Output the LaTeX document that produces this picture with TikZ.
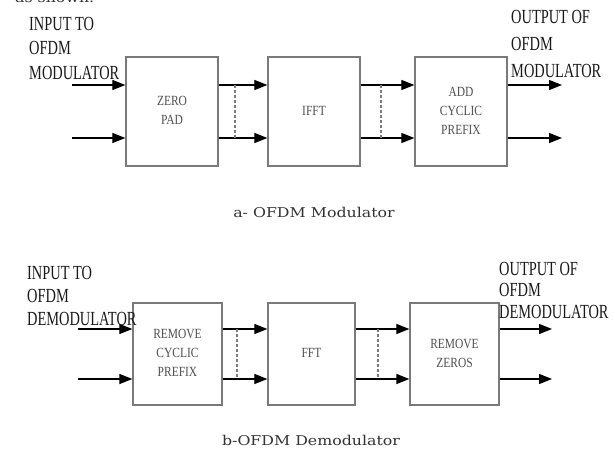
\documentclass[tikz,border=0pt]{standalone}
\usepackage{fontspec}
\setmainfont{Liberation Serif}
\newfontfamily\capfont{DejaVu Serif}
\usetikzlibrary{arrows.meta,calc}
\definecolor{boxgray}{HTML}{7A7A7A}
\definecolor{boxtext}{HTML}{505050}
\definecolor{labtext}{HTML}{1A1A1A}
\definecolor{captext}{HTML}{333333}
\newcommand\boxlab[1]{\scalebox{0.82}[1]{\begin{tabular}{@{}c@{}}#1\end{tabular}}}
\newcommand\sidelab[2]{\fontsize{20}{#1}\selectfont\scalebox{0.72}[1]{\begin{tabular}[t]{@{}l@{}}#2\end{tabular}}}
\newcommand\caplab[1]{\scalebox{1.17}[1]{#1}}
\tikzset{
  blk/.style={draw=boxgray, line width=1.3pt, inner sep=0pt, text=boxtext,
    font=\fontsize{14}{19}\selectfont},
  arr/.style={draw=black, line width=1.2pt, -{Triangle[length=13pt,width=10pt]}},
  dots/.style={draw=boxgray, line width=1.1pt, dash pattern=on 2.5pt off 2.5pt},
  side/.style={anchor=base west, inner sep=0pt, text=labtext},
  captxt/.style={text=captext, inner sep=0pt, font=\capfont\fontsize{13.5}{16}\selectfont}
}
\begin{document}
\begin{tikzpicture}[x=1pt,y=-1pt]
\fill[white] (0,0) rectangle (615,450);
\useasboundingbox (0,0) rectangle (615,450);

% body text cut off at the very top, as in the reference
\node[captxt, anchor=base west] (topline) at (15,2) {\caplab{as shown.}};

% ---------- a: modulator ----------
\node[blk, minimum width=92pt, minimum height=109pt] (A) at (172,111.5) {\boxlab{ZERO\\PAD}};
\node[blk, minimum width=92pt, minimum height=109pt] (B) at (314,111.5) {\boxlab{IFFT}};
\node[blk, minimum width=92pt, minimum height=109pt] (C) at (461,111.5) {\boxlab{ADD\\CYCLIC\\PREFIX}};

\coordinate (inA1) at (72,85);
\coordinate (inA2) at (72,138);
\coordinate (outC1) at (562,85);
\coordinate (outC2) at (562,138);

\draw[arr] (inA1) -- (A.west |- inA1);
\draw[arr] (inA2) -- (A.west |- inA2);
\draw[arr] (A.east |- inA1) -- (B.west |- inA1);
\draw[arr] (A.east |- inA2) -- (B.west |- inA2);
\draw[arr] (B.east |- inA1) -- (C.west |- inA1);
\draw[arr] (B.east |- inA2) -- (C.west |- inA2);
\draw[arr] (C.east |- outC1) -- (outC1);
\draw[arr] (C.east |- outC2) -- (outC2);

\coordinate (dab1) at (235,85);  \coordinate (dab2) at (235,138);
\coordinate (dbc1) at (381,85);  \coordinate (dbc2) at (381,138);
\draw[dots] (dab1) -- (dab2);
\draw[dots] (dbc1) -- (dbc2);

\node[side] (inlabA) at (29,30) {\sidelab{24.5}{INPUT TO\\OFDM\\MODULATOR}};
\node[side] (outlabA) at (511,23) {\sidelab{27}{OUTPUT OF\\OFDM\\MODULATOR}};

\node[captxt] (capA) at (314,212) {\caplab{a- OFDM Modulator}};

% ---------- b: demodulator ----------
\node[blk, minimum width=89pt, minimum height=102pt] (D) at (177.5,354) {\boxlab{REMOVE\\CYCLIC\\PREFIX}};
\node[blk, minimum width=87pt, minimum height=102pt] (E) at (311.5,354) {\boxlab{FFT}};
\node[blk, minimum width=89pt, minimum height=102pt] (F) at (454.5,354) {\boxlab{REMOVE\\ZEROS}};

\coordinate (inD1) at (78,329);
\coordinate (inD2) at (78,379);
\coordinate (outF1) at (552,329);
\coordinate (outF2) at (552,379);

\draw[arr] (inD1) -- (D.west |- inD1);
\draw[arr] (inD2) -- (D.west |- inD2);
\draw[arr] (D.east |- inD1) -- (E.west |- inD1);
\draw[arr] (D.east |- inD2) -- (E.west |- inD2);
\draw[arr] (E.east |- inD1) -- (F.west |- inD1);
\draw[arr] (E.east |- inD2) -- (F.west |- inD2);
\draw[arr] (F.east |- outF1) -- (outF1);
\draw[arr] (F.east |- outF2) -- (outF2);

\coordinate (dde1) at (237,329);  \coordinate (dde2) at (237,379);
\coordinate (def1) at (378,329);  \coordinate (def2) at (378,379);
\draw[dots] (dde1) -- (dde2);
\draw[dots] (def1) -- (def2);

\node[side] (inlabD) at (27,279.6) {\sidelab{23}{INPUT TO\\OFDM\\DEMODULATOR}};
\node[side] (outlabF) at (499,275) {\sidelab{21.5}{OUTPUT OF\\OFDM\\DEMODULATOR}};

\node[captxt] (capB) at (311,440) {\caplab{b-OFDM Demodulator}};
\end{tikzpicture}
\end{document}
